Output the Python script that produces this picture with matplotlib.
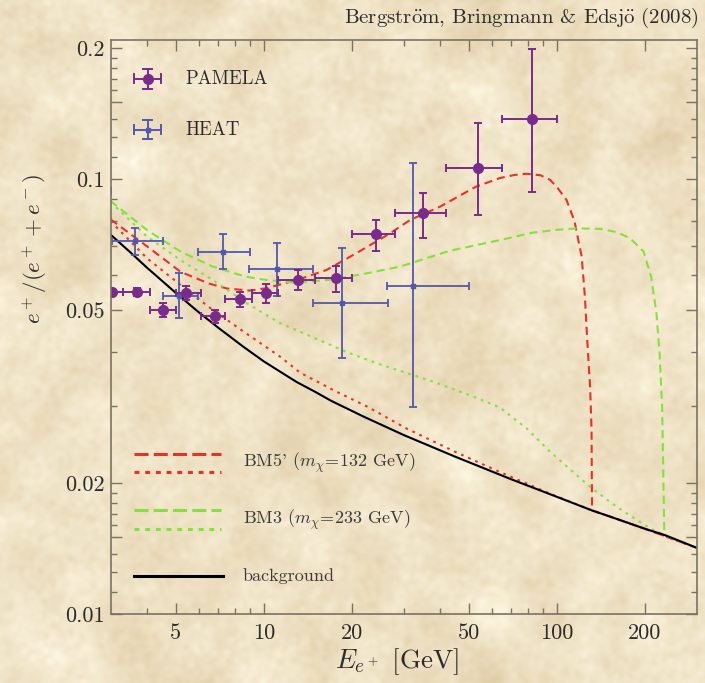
import numpy as np
import matplotlib
matplotlib.use("Agg")
import matplotlib.pyplot as plt
from matplotlib.lines import Line2D
from matplotlib.ticker import FixedLocator, NullFormatter

plt.rcParams['font.family'] = ['cmr10', 'DejaVu Serif']
plt.rcParams['mathtext.fontset'] = 'cm'
plt.rcParams['axes.formatter.use_mathtext'] = True

# PAMELA positron fraction
pam_E = np.array([3.03, 3.70, 4.54, 5.43, 6.82, 8.30, 10.2, 13.1, 17.6, 24.1, 35.0, 53.8, 82.5])
pam_lo = np.array([2.7, 3.3, 4.1, 5.0, 6.1, 7.4, 9.1, 11.2, 15.0, 20.0, 28.0, 42.0, 65.0])
pam_hi = np.array([3.3, 4.1, 5.0, 6.1, 7.4, 9.1, 11.2, 15.0, 20.0, 28.0, 42.0, 65.0, 100.0])
pam_f = np.array([0.0549, 0.0549, 0.0500, 0.0548, 0.0483, 0.0530, 0.0546, 0.0586, 0.0591,
                  0.0746, 0.0834, 0.1062, 0.1371])
pam_dn = np.array([0.0010, 0.0012, 0.0018, 0.0020, 0.0017, 0.0021, 0.0028, 0.0031, 0.0041,
                   0.0063, 0.0101, 0.0234, 0.0438])
pam_up = np.array([0.0010, 0.0012, 0.0018, 0.0020, 0.0017, 0.0021, 0.0028, 0.0031, 0.0041,
                   0.0058, 0.0096, 0.0285, 0.0622])

# HEAT positron fraction
heat_E = np.array([2.5, 3.64, 5.15, 7.25, 11.07, 18.46, 32.4])
heat_lo = np.array([2.0, 3.03, 4.52, 5.98, 8.93, 14.77, 26.4])
heat_hi = np.array([3.02, 4.52, 5.98, 8.98, 14.77, 26.6, 50.3])
heat_f = np.array([0.094, 0.0720, 0.0539, 0.0681, 0.0620, 0.0518, 0.0568])
heat_dn = np.array([0.010, 0.0051, 0.0059, 0.0061, 0.0082, 0.0130, 0.0269])
heat_up = np.array([0.010, 0.0053, 0.0068, 0.0065, 0.0091, 0.0177, 0.0519])

# secondary background
bg_E = [3.0, 3.5, 4.0, 5.0, 6.0, 7.0, 8.5, 10.0, 11.5, 13.0, 15.0, 17.0, 22.0, 30.0, 45.0,
        70.0, 100.0, 132.0, 150.0, 200.0, 233.0, 300.0]
bg_f = [0.0745, 0.0679, 0.0625, 0.0548, 0.0494, 0.0455, 0.0412, 0.0381, 0.0359, 0.0341,
        0.0324, 0.0309, 0.0284, 0.0258, 0.0230, 0.0204, 0.0186, 0.0173, 0.0168, 0.0157,
        0.0152, 0.0142]

# BM5' (m_chi = 132 GeV), two propagation setups
bm5a_E = [3.0, 4.0, 5.2, 6.5, 7.5, 9.0, 10.2, 13.0, 16.4, 20.7, 27.0, 31.6, 40.0, 53.0, 64.0,
          72.0, 79.0, 88.0, 95.0, 100.0, 108.0, 115.0, 121.7, 124.8, 127.1, 130.0, 131.5,
          132.0, 150.0, 200.0, 300.0]
bm5a_f = [0.0808, 0.0700, 0.0612, 0.0575, 0.0560, 0.0554, 0.0561, 0.0586, 0.0618, 0.0675,
          0.0750, 0.0805, 0.0864, 0.0960, 0.1005, 0.1022, 0.1028, 0.1020, 0.0995, 0.0960,
          0.0895, 0.0800, 0.0663, 0.0536, 0.0427, 0.0333, 0.0265, 0.0173, 0.0168, 0.0157,
          0.0142]
bm5b_E = [3.0, 4.0, 5.2, 6.7, 8.7, 11.4, 13.3, 17.3, 22.5, 30.7, 45.6, 64.0, 95.0, 132.0,
          150.0, 200.0, 300.0]
bm5b_f = [0.0800, 0.0657, 0.0571, 0.0500, 0.0442, 0.0390, 0.0359, 0.0327, 0.0300, 0.0267,
          0.0235, 0.0212, 0.0189, 0.0173, 0.0168, 0.0157, 0.0142]

# BM3 (m_chi = 233 GeV)
bm3a_E = [3.0, 4.0, 5.2, 6.7, 8.7, 10.2, 13.0, 17.3, 22.5, 29.2, 43.2, 64.2, 83.0, 100.0,
          117.0, 141.0, 160.0, 178.0, 198.0, 210.0, 219.0, 224.5, 229.0, 233.0, 300.0]
bm3a_f = [0.0890, 0.0763, 0.0681, 0.0629, 0.0596, 0.0586, 0.0577, 0.0588, 0.0607, 0.0629,
          0.0684, 0.0724, 0.0753, 0.0764, 0.0770, 0.0768, 0.0755, 0.0731, 0.0681, 0.0596,
          0.0491, 0.0397, 0.0300, 0.0152, 0.0142]
bm3b_E = [3.0, 4.0, 5.2, 6.7, 8.75, 11.4, 14.8, 19.2, 24.9, 37.9, 52.0, 64.2, 79.0, 95.0,
          130.0, 160.0, 208.0, 233.0, 300.0]
bm3b_f = [0.0885, 0.0737, 0.0651, 0.0586, 0.0518, 0.0466, 0.0432, 0.0400, 0.0375, 0.0342,
          0.0316, 0.0298, 0.0267, 0.0236, 0.0196, 0.01765, 0.01574, 0.0152, 0.0142]

paper = '#efe1c4'
purple = '#7a2a8c'
blue = '#5059ad'
red = '#ea3128'
green = '#84e23c'
axcol = '#7b7262'
txt = '#2b2b2b'

W, H = 705, 683
fig = plt.figure(figsize=(W / 100, H / 100), dpi=100, facecolor=paper)


# parchment-like backdrop
def _smooth(a, s):
    ky = np.fft.fftfreq(a.shape[0])[:, None]
    kx = np.fft.fftfreq(a.shape[1])[None, :]
    k = np.exp(-2 * (np.pi * s) ** 2 * (kx ** 2 + ky ** 2))
    out = np.real(np.fft.ifft2(np.fft.fft2(a) * k))
    return out / out.std()


rng = np.random.default_rng(7)
grain = 0.65 * _smooth(rng.standard_normal((H, W)), 14) + 0.35 * _smooth(rng.standard_normal((H, W)), 2.5)
base = np.array([239, 226, 197], float)
spread = np.array([5.0, 7.0, 10.0])
tex = np.clip(base[None, None, :] + grain[:, :, None] * spread[None, None, :], 0, 255) / 255
fig.figimage(tex, xo=0, yo=0, zorder=-10, origin='upper')

ax = fig.add_axes([110.5 / W, 1 - 614 / H, 586 / W, 574 / H])
ax.set_facecolor('none')
ax.set_xscale('log')
ax.set_yscale('log')
ax.set_xlim(3, 300)
ax.set_ylim(0.01, 0.2087)

dash = (0, (3.9, 2.4))
dot = (0, (1.3, 2.4))
ax.plot(bm5a_E, bm5a_f, color=red, lw=1.5, ls=dash)
ax.plot(bm5b_E, bm5b_f, color=red, lw=1.5, ls=dot)
ax.plot(bm3a_E, bm3a_f, color=green, lw=1.5, ls=dash)
ax.plot(bm3b_E, bm3b_f, color=green, lw=1.5, ls=dot)
ax.plot(bg_E, bg_f, color='black', lw=1.5)

ax.errorbar(heat_E, heat_f, xerr=[heat_E - heat_lo, heat_hi - heat_E],
            yerr=[heat_dn, heat_up], fmt='s', ms=3.5, color=blue, ecolor=blue,
            elinewidth=1.3, capsize=3.2, capthick=1.3)
ax.errorbar(pam_E, pam_f, xerr=[pam_E - pam_lo, pam_hi - pam_E],
            yerr=[pam_dn, pam_up], fmt='o', ms=7, color=purple, ecolor=purple,
            elinewidth=1.4, capsize=3.2, capthick=1.4)

# axes frame and ticks
for s in ax.spines.values():
    s.set_color(axcol)
    s.set_linewidth(1.2)
ax.xaxis.set_major_locator(FixedLocator([5, 10, 20, 50, 100, 200]))
ax.xaxis.set_minor_locator(FixedLocator([4, 6, 7, 8, 9, 30, 40, 60, 70, 80, 90]))
ax.set_xticklabels(['5', '10', '20', '50', '100', '200'])
ax.xaxis.set_minor_formatter(NullFormatter())
ax.yaxis.set_major_locator(FixedLocator([0.01, 0.015, 0.02, 0.05, 0.1, 0.15, 0.2]))
ax.yaxis.set_minor_locator(FixedLocator([0.01125, 0.0125, 0.01375, 0.016, 0.017, 0.018, 0.019,
                                         0.03, 0.04, 0.06, 0.07, 0.08, 0.09,
                                         0.1125, 0.125, 0.1375, 0.16, 0.17, 0.18, 0.19]))
ax.set_yticklabels(['0.01', '', '0.02', '0.05', '0.1', '', '0.2'])
ax.yaxis.set_minor_formatter(NullFormatter())
ax.tick_params(which='both', direction='in', top=True, right=True, color=axcol,
               width=1.0, labelsize=16, labelcolor=txt)
ax.tick_params(which='major', length=8)
ax.tick_params(which='minor', length=4)
ax.tick_params(axis='y', pad=4)
ax.tick_params(axis='x', pad=7)


def fx(px):
    return px / W


def fy(py):
    return 1 - py / H


def seg(x0, y0, x1, y1, **kw):
    fig.add_artist(Line2D([fx(x0), fx(x1)], [fy(y0), fy(y1)], **kw))


def err_glyph(x, y, col, marker, ms, hw, hh):
    seg(x - hw, y, x + hw, y, color=col, lw=1.4)
    seg(x, y - hh, x, y + hh, color=col, lw=1.4)
    seg(x - hw, y - 4.5, x - hw, y + 4.5, color=col, lw=1.4)
    seg(x + hw, y - 4.5, x + hw, y + 4.5, color=col, lw=1.4)
    seg(x - 4.5, y - hh, x + 4.5, y - hh, color=col, lw=1.4)
    seg(x - 4.5, y + hh, x + 4.5, y + hh, color=col, lw=1.4)
    fig.add_artist(Line2D([fx(x)], [fy(y)], marker=marker, ms=ms, color=col))


err_glyph(147.7, 78.5, purple, 'o', 7, 13.3, 10)
err_glyph(147.7, 129.5, blue, 's', 3.5, 13.3, 9.5)
fig.text(fx(185), fy(79), 'PAMELA', fontsize=13.5, color=txt, ha='left', va='center')
fig.text(fx(185), fy(130), 'HEAT', fontsize=13.5, color=txt, ha='left', va='center')

seg(134, 453.5, 221, 453.5, color=red, lw=2.2, ls=(0, (4.6, 1.7)))
seg(134, 472, 221, 472, color=red, lw=2.2, ls=(0, (1.6, 1.9)))
seg(134, 510, 221, 510, color=green, lw=2.2, ls=(0, (4.6, 1.7)))
seg(134, 529, 221, 529, color=green, lw=2.2, ls=(0, (1.6, 1.9)))
seg(134, 575.5, 223, 575.5, color='black', lw=2.2)
fig.text(fx(243), fy(463), r"BM5' ($m_\chi\!=\!132$ GeV)", fontsize=13, color='#3a3a3a',
         ha='left', va='center')
fig.text(fx(243), fy(520), r"BM3 ($m_\chi\!=\!233$ GeV)", fontsize=13, color='#3a3a3a',
         ha='left', va='center')
fig.text(fx(243), fy(576), 'background', fontsize=13, color='#3a3a3a', ha='left', va='center')

fig.text(fx(699), fy(18), r'Bergstr$\ddot{\rm o}$m, Bringmann & Edsj$\ddot{\rm o}$ (2008)',
         fontsize=15, color=txt, ha='right', va='center')
fig.text(fx(35), fy(249), r'$e^+/(e^+ + e^-)$', rotation=90, fontsize=16.5, color=txt,
         ha='center', va='center')
fig.text(fx(397), fy(662), r'$E_{e^+}$ [GeV]', fontsize=19.5, color=txt, ha='center', va='center')

fig.savefig('out.png', dpi=100, facecolor=paper)
